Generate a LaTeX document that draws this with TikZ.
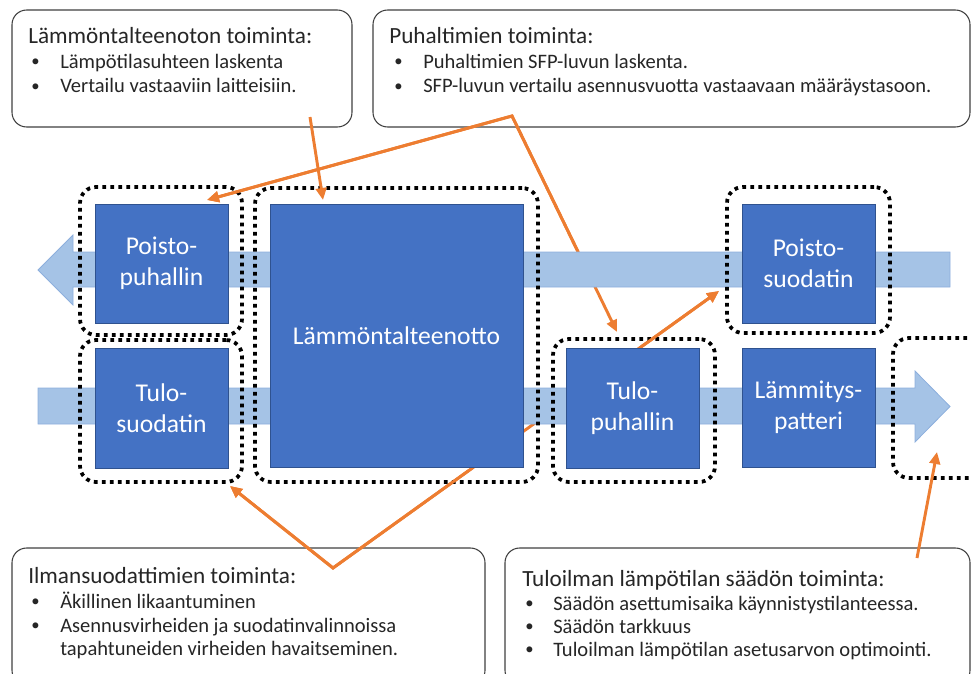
\documentclass[tikz,border=0pt]{standalone}
\usepackage{fontspec}
\setmainfont{Carlito}
\usetikzlibrary{arrows.meta}
\definecolor{boxblue}{HTML}{4472C4}
\definecolor{boxedge}{HTML}{2F528F}
\definecolor{bandfill}{HTML}{A5C3E6}
\definecolor{bandedge}{HTML}{8DAFDD}
\definecolor{orng}{HTML}{ED7D31}
\definecolor{calloutedge}{HTML}{404040}
\definecolor{txt}{HTML}{262626}
\begin{document}
\begin{tikzpicture}[x=0.75pt,y=-0.75pt,
  wh/.style 2 args={minimum width=#1*0.75pt, minimum height=#2*0.75pt},
  callout/.style={draw=calloutedge, line width=0.8pt, fill=white, rounded corners=11pt, inner sep=0pt},
  bluebox/.style={draw=boxedge, line width=0.6pt, fill=boxblue, text=white, font=\fontsize{19.2}{23}\selectfont, align=center, inner sep=0pt},
  dotbox/.style={draw=black, line width=2.8pt, dash pattern=on 2.8pt off 3.2pt, rounded corners=12pt, inner sep=0pt},
  band/.style={draw=bandedge, line width=0.6pt, fill=bandfill},
  ttl/.style={font=\fontsize{17.4}{20}\selectfont, anchor=base west, inner sep=0pt, text=txt},
  btxt/.style={font=\fontsize{15.4}{18}\selectfont, anchor=base west, inner sep=0pt, text=txt},
  bdot/.style={font=\fontsize{12.5}{14}\selectfont, anchor=base west, inner sep=0pt, text=txt},
  oline/.style={draw=orng, line width=2.2pt},
  oarrow/.style={oline, -{Triangle[length=9pt,width=8pt]}},
  oarrows/.style={oline, {Triangle[length=9pt,width=8pt]}-{Triangle[length=9pt,width=8pt]}}
]
\useasboundingbox (0,0) rectangle (971,674);

% ---------- callout boxes ----------
\node[callout, wh={340}{117}] (c1) at (182,68.5) {};
\node[callout, wh={597}{117}] (c2) at (671.5,68.5) {};
\node[callout, wh={473}{137}] (c3) at (248.5,616.5) {};
\node[callout, wh={465}{137}] (c4) at (737.5,616.5) {};

% texts
\node[ttl] (c1t) at (28,44) {Lämmöntalteenoton toiminta:};
\node[bdot] (c1b1) at (31,67) {•};
\node[btxt] (c1l1) at (60,68.5) {Lämpötilasuhteen laskenta};
\node[bdot] (c1b2) at (31,91.5) {•};
\node[btxt] (c1l2) at (60,93) {Vertailu vastaaviin laitteisiin.};

\node[ttl] (c2t) at (389,44) {Puhaltimien toiminta:};
\node[bdot] (c2b1) at (394,67) {•};
\node[btxt] (c2l1) at (423,68.5) {Puhaltimien SFP-luvun laskenta.};
\node[bdot] (c2b2) at (394,91.5) {•};
\node[btxt] (c2l2) at (423,93) {SFP-luvun vertailu asennusvuotta vastaavaan määräystasoon.};

\node[ttl] (c3t) at (28,583) {Ilmansuodattimien toiminta:};
\node[bdot] (c3b1) at (31,606.5) {•};
\node[btxt] (c3l1) at (60,608) {Äkillinen likaantuminen};
\node[bdot] (c3b2) at (31,630.5) {•};
\node[btxt] (c3l2) at (60,632) {Asennusvirheiden ja suodatinvalinnoissa};
\node[btxt] (c3l3) at (60,655.5) {tapahtuneiden virheiden havaitseminen.};

\node[ttl] (c4t) at (522,586) {Tuloilman lämpötilan säädön toiminta:};
\node[bdot] (c4b1) at (525,608.5) {•};
\node[btxt] (c4l1) at (553,610) {Säädön asettumisaika käynnistystilanteessa.};
\node[bdot] (c4b2) at (525,631.5) {•};
\node[btxt] (c4l2) at (553,633) {Säädön tarkkuus};
\node[bdot] (c4b3) at (525,654.5) {•};
\node[btxt] (c4l3) at (553,656) {Tuloilman lämpötilan asetusarvon optimointi.};

% ---------- orange connector coordinates ----------
\coordinate (a1s) at (310,117);
\coordinate (a1e) at (323,200);
\coordinate (a2v) at (512,116);
\coordinate (a2l) at (207,200);
\coordinate (a2r) at (617,332);
\coordinate (a4v) at (333,568);
\coordinate (a4l) at (230,486);
\coordinate (a4r) at (719,291);
\coordinate (a5s) at (917,558);
\coordinate (a5e) at (937,452);

% connectors that pass beneath the air flow
\draw[oarrows] (a2l) -- (a2v) -- (a2r);
\draw[oarrows] (a4l) -- (a4v) -- (a4r);

% ---------- air flow bands ----------
\draw[band] (950,252) -- (73,252) -- (73,235) -- (38,270) -- (73,305) -- (73,287) -- (950,287) -- cycle;
\draw[band] (38,388) -- (915,388) -- (915,371) -- (950,406.5) -- (915,442) -- (915,424) -- (38,424) -- cycle;

% ---------- components ----------
\node[bluebox, wh={133}{119}] (pp) at (161.5,263.5) {Poisto-\\puhallin};
\node[bluebox, wh={133}{120}] (ts) at (161.5,408) {Tulo-\\suodatin};
\node[bluebox, wh={253}{263}] (lto) at (396.5,335.5) {Lämmöntalteenotto};
\node[bluebox, wh={133}{120}] (tp) at (632.5,408) {Tulo-\\puhallin};
\node[bluebox, wh={133}{119}] (ps) at (808.5,263.5) {Poisto-\\suodatin};
\node[bluebox, wh={133}{119}] (lp) at (808.5,407.5) {Lämmitys-\\patteri};

% ---------- dotted groups ----------
\node[dotbox, wh={162}{148}] (dpp) at (161,261) {};
\node[dotbox, wh={162}{142}] (dts) at (161,411) {};
\node[dotbox, wh={283}{294}] (dlto) at (396.5,335) {};
\node[dotbox, wh={162}{143}] (dtp) at (634,410.5) {};
\node[dotbox, wh={163}{146}] (dps) at (808.5,260) {};
\node[dotbox, wh={162}{140}] (drt) at (974,408) {};

% ---------- connectors drawn above the dotted groups ----------
\draw[oarrow] (a1s) -- (a1e);
\draw[oarrow] (a5s) -- (a5e);
\begin{scope}
  \clip (0,0) rectangle (971,250);
  \draw[oarrows] (a2l) -- (a2v) -- (a2r);
\end{scope}
\begin{scope}
  \clip (0,469) rectangle (971,674);
  \draw[oarrows] (a4l) -- (a4v) -- (a4r);
\end{scope}
\begin{scope}
  \clip (560,288.5) rectangle (760,347.5);
  \draw[oarrows] (a4l) -- (a4v) -- (a4r);
\end{scope}
\end{tikzpicture}
\end{document}
